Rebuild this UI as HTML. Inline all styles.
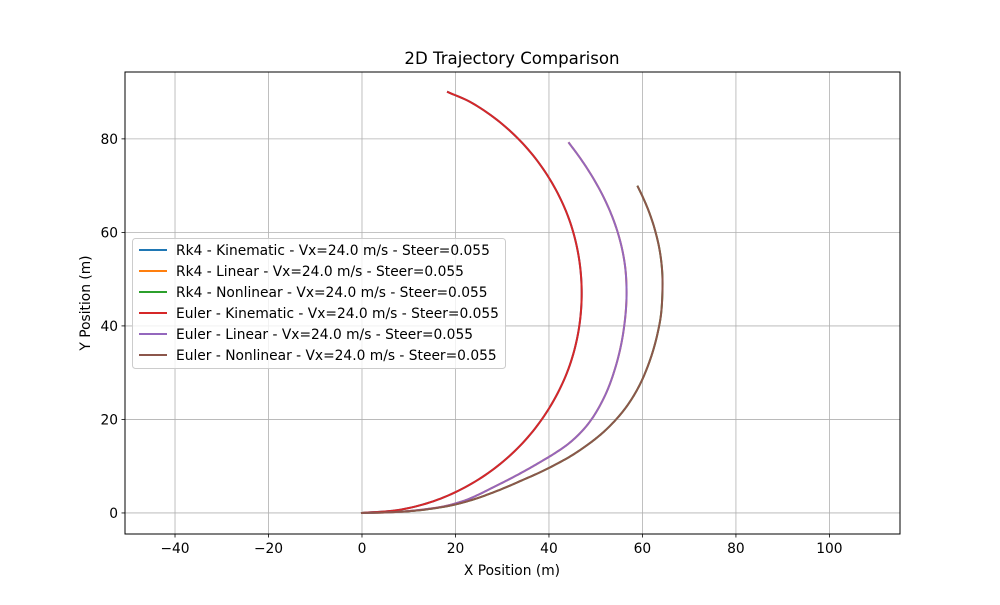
<!DOCTYPE html>
<html><head><meta charset="utf-8"><style>
body{margin:0;background:#fff}
svg text{font-family:"DejaVu Sans","Liberation Sans",sans-serif;fill:#000}
</style></head><body>
<svg id="chart" width="1000" height="600" xmlns="http://www.w3.org/2000/svg">
<rect width="1000" height="600" fill="#fff"/>
<g id="grid"></g>
<g id="series"></g>
<rect x="125" y="72" width="775" height="462" fill="none" stroke="#000" stroke-width="1"/>
<g id="ticks"></g>
<text x="512" y="64" font-size="16.6" text-anchor="middle">2D Trajectory Comparison</text>
<text x="512" y="575" font-size="13.8" text-anchor="middle">X Position (m)</text>
<text transform="translate(90,303) rotate(-90)" font-size="13.8" text-anchor="middle">Y Position (m)</text>
<g id="legend"></g>
</svg>
<script>
const xTicks=[-40,-20,0,20,40,60,80,100];
const yTicks=[0,20,40,60,80];
const seriesNames=["Rk4 - Kinematic - Vx=24.0 m/s - Steer=0.055","Rk4 - Linear - Vx=24.0 m/s - Steer=0.055","Rk4 - Nonlinear - Vx=24.0 m/s - Steer=0.055","Euler - Kinematic - Vx=24.0 m/s - Steer=0.055","Euler - Linear - Vx=24.0 m/s - Steer=0.055","Euler - Nonlinear - Vx=24.0 m/s - Steer=0.055"];
const seriesColors=["#1f77b4","#ff7f0e","#2ca02c","#d62728","#9467bd","#8c564b"];
const kinematicX=[0,8.2,16.1,23.5,30.2,36.0,40.7,44.2,46.3,47,46.3,44.2,40.7,36.0,30.2,23.5,18.4];
const kinematicY=[0,0.7,2.8,6.3,11.0,16.8,23.5,30.9,38.8,47,55.2,63.1,70.5,77.2,83.0,87.7,90.0];
const linearX=[0,4,8,11,14,17,19.9,22.5,25,27.5,30.6,33,36,38.5,41.3,44.3,47.3,49.5,51.6,53,54.5,55.5,56.1,56.5,56.6,56.37,55.74,54.71,53.28,51.45,49.22,46.6,44.3];
const linearY=[0,0.07,0.25,0.5,0.85,1.3,2.0,2.85,3.95,5.2,6.75,8.0,9.65,11.1,12.8,14.9,17.75,20.6,24.3,27.5,32.1,36.3,40,44,47.7,52,56,60,64,68,72,76,79.1];
const nonlinearX=[0,6,11,15.5,19.9,24.2,27.3,30.6,34.5,38,41.3,45,48.8,52,55.2,57.5,59.5,61,62.3,63.3,64,64.3,64.11,63.53,62.54,61.9,61.17,60.1,59.0];
const nonlinearY=[0,0.15,0.45,1.0,1.8,3.0,4.1,5.4,7.1,8.65,10.3,12.37,14.97,17.6,20.96,24.06,27.56,31.0,34.8,38.7,42.7,49.1,53,57,61,63,65,67.5,69.8];
const seriesX=[kinematicX,linearX,nonlinearX,kinematicX,linearX,nonlinearX];
const seriesY=[kinematicY,linearY,nonlinearY,kinematicY,linearY,nonlinearY];

const L=125,R=900,T=72,B=534,xmin=-50.7,xmax=115.1,ymin=-4.5,ymax=94.3;
const sx=v=>L+(v-xmin)/(xmax-xmin)*(R-L);
const sy=v=>B-(v-ymin)/(ymax-ymin)*(B-T);
const NS="http://www.w3.org/2000/svg";
function mk(tag,attrs,parent){const e=document.createElementNS(NS,tag);for(const k in attrs)e.setAttribute(k,attrs[k]);parent.appendChild(e);return e;}
const grid=document.getElementById('grid'),ticks=document.getElementById('ticks'),ser=document.getElementById('series'),leg=document.getElementById('legend');
xTicks.forEach(t=>{const x=sx(t);
 const g=mk('line',{x1:x,x2:x,y1:T,y2:B,stroke:'#b0b0b0','stroke-width':0.8},grid);
 
 
 const tk=mk('line',{x1:x,x2:x,y1:B,y2:B+3.5,stroke:'#000','stroke-width':0.8},ticks);
 
 
 const lb=mk('text',{x:x,y:B+19,'font-size':13.8,'text-anchor':'middle'},ticks);
 
 
 lb.textContent=t<0?'\u2212'+(-t):String(t);});
yTicks.forEach(t=>{const y=sy(t);
 const g=mk('line',{x1:L,x2:R,y1:y,y2:y,stroke:'#b0b0b0','stroke-width':0.8},grid);
 
 
 const tk=mk('line',{x1:L-3.5,x2:L,y1:y,y2:y,stroke:'#000','stroke-width':0.8},ticks);
 
 
 const lb=mk('text',{x:L-7,y:y+5,'font-size':13.8,'text-anchor':'end'},ticks);
 
 
 lb.textContent=String(t);});
function crPoint(p0,p1,p2,p3,t){
 const a=0.5;
 const d=(p,q)=>Math.max(1e-4,Math.pow(Math.hypot(q[0]-p[0],q[1]-p[1]),a));
 const t0=0,t1=t0+d(p0,p1),t2=t1+d(p1,p2),t3=t2+d(p2,p3);
 const tt=t1+(t2-t1)*t;
 const lerp=(p,q,ta,tb)=>[(tb-tt)/(tb-ta)*p[0]+(tt-ta)/(tb-ta)*q[0],(tb-tt)/(tb-ta)*p[1]+(tt-ta)/(tb-ta)*q[1]];
 const A1=lerp(p0,p1,t0,t1),A2=lerp(p1,p2,t1,t2),A3=lerp(p2,p3,t2,t3);
 const B1=lerp(A1,A2,t0,t2),B2=lerp(A2,A3,t1,t3);
 return lerp(B1,B2,t1,t2);
}
seriesNames.forEach((n,i)=>{
 const xs=seriesX[i],ys=seriesY[i];
 const pts=xs.map((v,j)=>[sx(v),sy(ys[j])]);
 const N=pts.length;
 const ext=[[2*pts[0][0]-pts[1][0],2*pts[0][1]-pts[1][1]],...pts,[2*pts[N-1][0]-pts[N-2][0],2*pts[N-1][1]-pts[N-2][1]]];
 let d='M'+pts[0][0].toFixed(2)+','+pts[0][1].toFixed(2);
 for(let j=1;j<ext.length-2;j++){
  for(let k=1;k<=10;k++){const q=crPoint(ext[j-1],ext[j],ext[j+1],ext[j+2],k/10);d+=' L'+q[0].toFixed(2)+','+q[1].toFixed(2);}
 }
 const p=mk('path',{d:d,fill:'none',stroke:seriesColors[i],'stroke-width':2,'stroke-linejoin':'round','stroke-linecap':'square'},ser);
 
 
});
const box=mk('rect',{x:132.5,y:238.5,width:373,height:130,rx:3,fill:'#fff','fill-opacity':0.8,stroke:'#ccc'},leg);


seriesNames.forEach((n,i)=>{const y=250+i*21;
 const l=mk('line',{x1:139,x2:167,y1:y,y2:y,stroke:seriesColors[i],'stroke-width':2},leg);
 
 
 const t=mk('text',{x:176,y:y+5,'font-size':13.8},leg);
 
 
 t.textContent=n;});
</script>
</body></html>
